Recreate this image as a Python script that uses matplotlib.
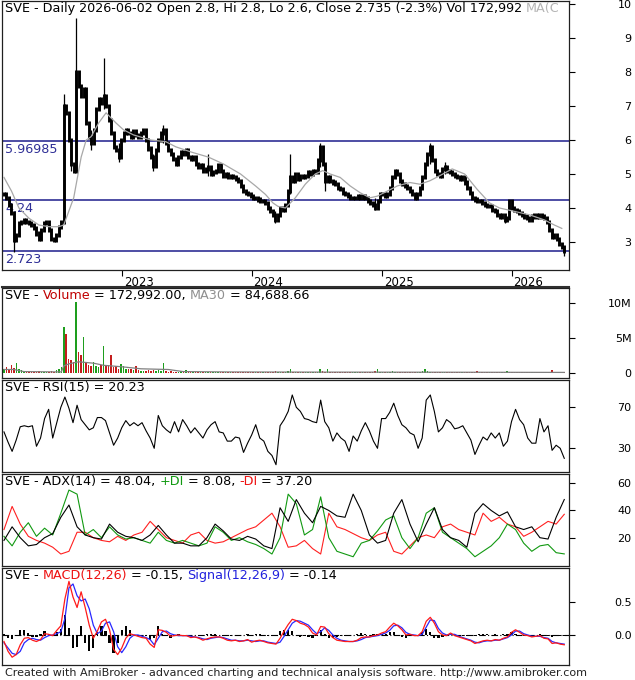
import matplotlib
matplotlib.use("Agg")
import matplotlib.pyplot as plt
import numpy as np
import pandas as pd
from matplotlib.lines import Line2D
from matplotlib.transforms import ScaledTranslation

# weekly bars, first week ending 2022-02-04
start = pd.Timestamp("2022-02-04")

close = [
    4.4, 4.3, 4.1, 3.85, 3.05, 3.2, 3.55, 3.6, 3.65, 3.6,
    3.55, 3.5, 3.4, 3.25, 3.1, 3.35, 3.55, 3.6, 3.35, 3.1,
    3.05, 3.2, 3.45, 3.6, 7.0, 6.8, 6.0, 5.3, 5.1, 8.0,
    7.6, 7.3, 7.5, 6.5, 6.1, 5.9, 6.3, 6.9, 7.2, 7.1,
    7.3, 7.0, 6.6, 6.2, 5.8, 5.7, 5.5, 6.0, 6.2, 6.3,
    6.2, 6.1, 6.25, 6.15, 6.1, 6.2, 6.3, 6.0, 5.75, 5.5,
    5.25, 5.7, 6.0, 6.2, 6.3, 5.9, 5.7, 5.6, 5.45, 5.3,
    5.5, 5.65, 5.6, 5.7, 5.5, 5.45, 5.5, 5.3, 5.2, 5.25,
    5.1, 5.15, 5.2, 5.0, 5.05, 5.1, 5.25, 5.1, 4.95, 5.0,
    4.9, 4.95, 4.9, 4.85, 4.8, 4.65, 4.5, 4.45, 4.4, 4.35,
    4.3, 4.3, 4.25, 4.2, 4.2, 4.15, 4.0, 3.9, 3.8, 3.65,
    3.8, 4.0, 3.95, 4.1, 4.5, 4.9, 4.8, 5.0, 4.85, 4.95,
    4.9, 4.95, 5.05, 5.0, 5.1, 5.05, 5.4, 5.8, 5.3, 4.8,
    4.9, 4.8, 4.75, 4.7, 4.6, 4.55, 4.45, 4.4, 4.35, 4.3,
    4.3, 4.3, 4.35, 4.3, 4.35, 4.3, 4.2, 4.15, 4.1, 4.0,
    4.2, 4.4, 4.4, 4.35, 4.4, 4.6, 4.9, 5.1, 5.0, 4.8,
    4.7, 4.65, 4.6, 4.5, 4.4, 4.3, 4.4, 4.6, 4.9, 5.3,
    5.6, 5.8, 5.4, 5.1, 5.0, 4.95, 5.15, 5.2, 5.1, 5.05,
    5.0, 4.95, 4.9, 4.85, 4.9, 4.75, 4.6, 4.45, 4.3, 4.25,
    4.2, 4.2, 4.15, 4.1, 4.05, 4.05, 3.95, 3.9, 3.8, 3.75,
    3.8, 3.65, 3.7, 4.2, 4.0, 3.95, 3.9, 3.85, 3.8, 3.75,
    3.7, 3.65, 3.75, 3.8, 3.75, 3.8, 3.75, 3.7, 3.6, 3.35,
    3.15, 3.2, 3.1, 2.95, 2.85, 2.735,
]

# weeks with long shadows: index, low, high
wick_week = [4, 24, 27, 29, 35, 40, 46, 60, 64, 82, 109, 115, 127, 129, 149, 171, 177, 201, 203, 225]
wick_lo = [2.72, 3.6, 5.1, 5.5, 5.7, 6.9, 5.35, 5.1, 5.9, 4.95, 3.55, 4.4, 5.2, 4.5, 3.95, 5.3, 5.0, 3.55, 3.8, 2.6]
wick_hi = [3.5, 7.35, 5.7, 9.6, 6.3, 8.4, 5.9, 5.6, 6.45, 5.6, 3.9, 5.6, 5.9, 5.1, 4.3, 5.9, 5.35, 3.8, 4.25, 2.85]

ma_week = [0, 3, 6, 10, 14, 18, 22, 24, 28, 31, 33, 35, 38, 41, 43, 45, 48, 52, 59, 65,
           69, 75, 82, 88, 95, 101, 105, 108, 110, 113, 117, 121, 125, 128, 131, 135, 139, 143, 147, 150,
           154, 158, 163, 167, 171, 175, 180, 185, 190, 195, 199, 205, 211, 217, 221, 224]
ma_price = [4.9, 4.5, 4.0, 3.7, 3.5, 3.45, 3.45, 3.5, 4.3, 5.5, 6.0, 6.1, 6.5, 6.8, 6.65, 6.5, 6.3, 6.15, 6.0, 5.95,
            5.8, 5.65, 5.5, 5.3, 5.0, 4.65, 4.4, 4.15, 4.05, 4.0, 4.3, 4.7, 5.0, 5.1, 5.0, 4.9, 4.65, 4.45, 4.3, 4.35,
            4.5, 4.65, 4.75, 4.7, 4.8, 4.95, 5.15, 5.0, 4.55, 4.15, 4.0, 3.9, 3.8, 3.65, 3.5, 3.4]

levels = [5.96985, 4.24, 2.723]
level_labels = ["5.96985", "4.24", "2.723"]

# volume, units of 100,000 shares
volume = [
    5, 8, 6, 12, 7, 14, 6, 4, 3, 2,
    2, 2, 2, 2, 3, 2, 2, 2, 2, 3,
    2, 4, 6, 8, 66, 56, 20, 18, 15, 101,
    30, 25, 52, 15, 12, 10, 15, 10, 8, 12,
    38, 10, 12, 26, 8, 10, 6, 13, 10, 6,
    5, 6, 4, 10, 4, 3, 3, 3, 4, 3,
    4, 3, 4, 3, 14, 3, 2, 3, 2, 2,
    2, 3, 2, 4, 2, 2, 1, 2, 1, 2,
    1, 2, 2, 1, 2, 1, 1, 2, 1, 1,
    2, 1, 1, 2, 1, 1, 2, 1, 1, 2,
    1, 1, 2, 1, 1, 2, 1, 2, 2, 3,
    2, 2, 1, 2, 3, 6, 2, 2, 1, 2,
    1, 1, 2, 1, 1, 2, 2, 6, 3, 2,
    5, 2, 1, 2, 1, 1, 2, 1, 1, 1,
    1, 2, 1, 1, 1, 2, 1, 1, 2, 3,
    5, 2, 2, 1, 1, 2, 3, 2, 1, 1,
    2, 1, 1, 1, 2, 1, 2, 2, 3, 5,
    3, 2, 2, 1, 1, 1, 2, 1, 1, 1,
    1, 1, 2, 1, 1, 1, 1, 2, 2, 1,
    3, 1, 1, 2, 1, 1, 1, 1, 2, 1,
    1, 1, 3, 2, 1, 1, 1, 1, 1, 1,
    1, 1, 1, 1, 1, 2, 1, 1, 2, 2,
    4, 2, 2, 1, 2, 1.7,
]
vol_ma_week = [0, 4, 8, 23, 24, 26, 30, 36, 40, 47, 55, 66, 72, 90, 120, 150, 180, 200, 225]
vol_ma = [5, 5, 2, 1.5, 10, 13, 16, 14, 11, 9, 6, 5, 2, 1.5, 1.3, 1.2, 1.1, 1.0, 0.85]

rsi = [
    46, 36, 27, 38, 51, 52, 51, 52, 32, 40,
    59, 68, 40, 55, 70, 80, 69, 55, 72, 58,
    53, 48, 50, 60, 60, 57, 45, 33, 40, 50,
    57, 52, 55, 52, 55, 47, 40, 30, 62, 52,
    48, 45, 56, 46, 58, 52, 45, 50, 45, 40,
    48, 53, 56, 46, 45, 37, 37, 41, 40, 26,
    35, 43, 53, 40, 37, 27, 23, 14, 52, 58,
    66, 82, 70, 66, 59, 58, 56, 55, 77, 56,
    50, 37, 45, 40, 37, 27, 42, 37, 47, 55,
    47, 37, 30, 59, 59, 65, 74, 62, 53, 50,
    45, 43, 30, 40, 77, 82, 66, 46, 50, 58,
    55, 49, 50, 52, 45, 38, 24, 33, 41, 38,
    45, 40, 45, 32, 37, 56, 68, 58, 53, 40,
    35, 35, 59, 46, 52, 28, 33, 30, 20.23,
]

adx = [
    18, 28, 20, 14, 15, 20, 23, 35, 44, 28,
    22, 20, 19, 30, 24, 21, 20, 18, 22, 29,
    22, 16, 16, 14, 14, 20, 30, 25, 19, 18,
    21, 19, 14, 12, 42, 32, 48, 38, 31, 43,
    40, 36, 35, 52, 40, 22, 16, 18, 38, 48,
    30, 17, 30, 42, 26, 20, 18, 13, 38, 45,
    40, 36, 39, 28, 26, 28, 20, 19, 35, 48.04,
]
plus_di = [
    21, 14, 24, 31, 21, 27, 22, 38, 55, 52,
    22, 26, 20, 28, 22, 19, 20, 18, 16, 24,
    18, 16, 18, 16, 14, 16, 28, 24, 18, 20,
    17, 15, 12, 8, 20, 52, 45, 22, 26, 50,
    20, 10, 8, 6, 16, 18, 25, 33, 36, 20,
    12, 20, 38, 42, 24, 20, 16, 12, 6, 10,
    14, 20, 30, 26, 16, 10, 14, 15, 9, 8.08,
]
minus_di = [
    26, 43, 30, 21, 18, 16, 13, 8, 10, 24,
    24, 20, 18, 17, 21, 18, 22, 24, 32, 26,
    20, 18, 16, 22, 24, 18, 16, 17, 20, 23,
    26, 28, 33, 38, 28, 13, 14, 18, 12, 8,
    38, 28, 26, 23, 20, 18, 22, 24, 10, 8,
    14, 20, 22, 20, 28, 30, 26, 24, 22, 38,
    32, 35, 30, 28, 21, 24, 28, 32, 30, 37.2,
]

macd = [
    -0.10, -0.25, -0.34, -0.30, -0.15, -0.05, -0.04, -0.08, -0.10, -0.07,
    0.02, 0.01, -0.01, 0.07, 0.14, 0.55, 0.82, 0.58, 0.42, 0.66,
    0.42, 0.15, -0.05, 0.06, 0.20, 0.24, 0.08, -0.22, -0.30, -0.20,
    -0.05, 0.02, 0.00, -0.02, -0.04, -0.05, -0.14, -0.19, 0.08, 0.07,
    0.04, -0.02, -0.01, 0.00, -0.01, -0.01, -0.04, -0.03, -0.05, -0.08,
    -0.06, -0.04, -0.03, -0.03, -0.05, -0.08, -0.09, -0.08, -0.10, -0.09,
    -0.07, -0.11, -0.09, -0.08, -0.10, -0.12, -0.13, -0.14, -0.05, 0.06,
    0.16, 0.24, 0.22, 0.18, 0.16, 0.12, 0.03, 0.00, 0.13, 0.12,
    0.02, -0.04, -0.08, -0.09, -0.10, -0.10, -0.10, -0.08, -0.04, -0.03,
    -0.03, -0.01, 0.00, 0.03, 0.05, 0.12, 0.18, 0.14, 0.08, 0.00,
    0.01, -0.01, -0.01, 0.05, 0.21, 0.27, 0.18, 0.05, 0.00, -0.01,
    0.03, -0.01, -0.03, -0.05, -0.07, -0.09, -0.13, -0.11, -0.09, -0.08,
    -0.09, -0.07, -0.08, -0.05, -0.03, 0.04, 0.08, 0.04, 0.00, -0.01,
    -0.03, -0.02, -0.01, -0.05, -0.06, -0.13, -0.12, -0.14, -0.15,
]
signal = [
    -0.12, -0.20, -0.28, -0.30, -0.25, -0.12, -0.07, -0.05, -0.07, -0.08,
    -0.04, -0.01, 0.00, 0.02, 0.05, 0.25, 0.72, 0.78, 0.60, 0.52,
    0.55, 0.40, 0.15, 0.02, 0.06, 0.18, 0.20, 0.05, -0.18, -0.27,
    -0.18, -0.05, 0.00, 0.00, -0.02, -0.04, -0.07, -0.15, -0.05, 0.05,
    0.06, 0.02, 0.00, -0.01, -0.01, -0.01, -0.02, -0.03, -0.04, -0.06,
    -0.07, -0.05, -0.04, -0.03, -0.04, -0.06, -0.08, -0.08, -0.09, -0.09,
    -0.08, -0.09, -0.10, -0.09, -0.09, -0.11, -0.12, -0.13, -0.11, -0.02,
    0.08, 0.18, 0.22, 0.21, 0.18, 0.15, 0.08, 0.02, 0.05, 0.11,
    0.07, 0.00, -0.05, -0.08, -0.09, -0.10, -0.10, -0.09, -0.07, -0.04,
    -0.03, -0.02, -0.01, 0.01, 0.03, 0.07, 0.14, 0.15, 0.11, 0.04,
    0.01, 0.00, -0.01, 0.01, 0.12, 0.23, 0.22, 0.10, 0.03, 0.00,
    0.01, 0.01, -0.02, -0.04, -0.06, -0.08, -0.11, -0.12, -0.10, -0.09,
    -0.09, -0.08, -0.08, -0.06, -0.04, 0.00, 0.06, 0.06, 0.02, 0.00,
    -0.02, -0.02, -0.02, -0.04, -0.05, -0.10, -0.12, -0.13, -0.14,
]
hist = [
    0.02, -0.05, -0.06, 0.00, 0.08, 0.07, 0.03, -0.03, -0.03, 0.01,
    0.06, 0.02, -0.01, 0.05, 0.09, 0.30, 0.10, -0.20, -0.18, 0.14,
    -0.13, -0.25, -0.20, 0.04, 0.14, 0.06, -0.12, -0.27, -0.12, 0.07,
    0.13, 0.07, 0.00, -0.02, -0.02, -0.01, -0.07, -0.04, 0.13, 0.02,
    -0.02, -0.04, -0.01, 0.01, 0.00, 0.00, -0.02, 0.00, -0.01, -0.02,
    0.01, 0.01, 0.01, 0.00, -0.01, -0.02, -0.01, 0.00, -0.01, 0.00,
    0.01, -0.02, 0.01, 0.01, -0.01, -0.01, -0.01, -0.01, 0.06, 0.08,
    0.08, 0.06, 0.00, -0.03, -0.02, -0.03, -0.05, -0.02, 0.08, 0.01,
    -0.05, -0.04, -0.03, -0.01, -0.01, 0.00, 0.00, 0.01, 0.03, 0.01,
    0.00, 0.01, 0.01, 0.02, 0.02, 0.05, 0.04, -0.01, -0.03, -0.04,
    0.00, -0.01, 0.00, 0.04, 0.09, 0.04, -0.04, -0.05, -0.03, -0.01,
    0.02, -0.02, -0.01, -0.01, -0.01, -0.01, -0.02, 0.01, 0.01, 0.01,
    0.00, 0.01, 0.00, 0.01, 0.01, 0.04, 0.02, -0.02, -0.02, -0.01,
    -0.01, 0.00, 0.01, -0.01, -0.01, -0.03, 0.00, -0.01, -0.01,
]

year_labels = ["2023", "2024", "2025", "2026"]

W, H = 635, 680
plt.rcParams["font.family"] = ["DejaVu Sans"]
fig = plt.figure(figsize=(W / 100, H / 100), dpi=100)
renderer = fig.canvas.get_renderer()

FS = 8      # axis labels
HFS = 9.2   # pane headers


def panel(top, bottom):
    ax = fig.add_axes([2 / W, 1 - bottom / H, 567 / W, (bottom - top) / H])
    ax.set_xlim(-0.8, 226.9)
    ax.yaxis.tick_right()
    ax.tick_params(axis="y", direction="out", length=4, width=0.8, labelsize=FS, pad=41)
    ax.tick_params(axis="x", bottom=False, labelbottom=False)
    for sp in ax.spines.values():
        sp.set_linewidth(0.9)
        sp.set_color("#202020")
    return ax


def right_labels(ax, ticks, labels):
    ax.set_yticks(ticks, labels)
    for t in ax.get_yticklabels():
        t.set_horizontalalignment("right")


def text_width(s):
    t = fig.text(0, 0, s, fontsize=HFS)
    w = t.get_window_extent(renderer).width
    t.remove()
    return w


def header(parts, y_top, clip_ax=None):
    # parts: list of (text, colour); place each piece where it falls in the full line
    full = ""
    x0 = 5
    for s, c in parts:
        seg = s.strip()
        lead = s[: len(s) - len(s.lstrip())]
        prefix = full + lead
        if prefix:
            off = text_width(prefix + seg) - text_width(seg)
        else:
            off = 0
        t = fig.text((x0 + off) / W, 1 - y_top / H, seg, color=c, fontsize=HFS, va="top", ha="left")
        if clip_ax is not None:
            t.set_clip_box(clip_ax.bbox)
            t.set_clip_on(True)
        full += s


weeks = np.arange(len(close))
close_a = np.array(close)
prev = np.concatenate([[close_a[0]], close_a[:-1]])

# ---------------- price pane
ax = panel(1, 270)
ax.set_ylim(2.176, 10.09)
for v, lab in zip(levels, level_labels):
    ax.axhline(v, color="#1c1c8c", lw=1.1, zorder=1)
    ax.annotate(lab, (0, v), xycoords=("axes fraction", "data"), xytext=(3, -2),
                textcoords="offset pixels", va="top", ha="left", fontsize=HFS, color="#2e2e96", zorder=1)
ax.vlines(wick_week, wick_lo, wick_hi, color="black", lw=0.9, zorder=3)
ax.vlines(weeks, np.minimum(prev, close_a) - 0.06, np.maximum(prev, close_a) + 0.06,
          color="black", lw=2.1, zorder=3)
ax.plot(ma_week, ma_price, color="#a8a8a8", lw=0.9, zorder=4)
right_labels(ax, [3, 4, 5, 6, 7, 8, 9, 10], ["3", "4", "5", "6", "7", "8", "9", "10"])
year_pos = [(pd.Timestamp(y + "-01-01") - start).days / 7 for y in year_labels]
ax.set_xticks(year_pos, year_labels)
ax.tick_params(axis="x", bottom=True, labelbottom=True, direction="out", length=4, width=0.8,
               labelsize=FS + 0.5, pad=0)
for t in ax.get_xticklabels():
    t.set_horizontalalignment("left")
    t.set_transform(t.get_transform() + ScaledTranslation(2 / 100, 0, fig.dpi_scale_trans))
fig.add_artist(Line2D([2 / W, 569 / W], [1 - 286.5 / H] * 2, color="#303030", lw=1.5))

# the moving-average caption runs off the pane edge, only its start shows
header([("SVE - Daily 2026-06-02 Open 2.8, Hi 2.8, Lo 2.6, Close 2.735 (-2.3%) Vol 172,992", "black"),
        (" MA(C", "#b4b4b4")], 2, clip_ax=ax)

# ---------------- volume pane
axv = panel(288, 378)
axv.set_ylim(-0.714e6, 12.14e6)
vol_col = ["#1e9e1e" if c >= p else "#c41e1e" for c, p in zip(close_a, prev)]
axv.bar(weeks, np.array(volume) * 1e5, width=0.6, color=vol_col, linewidth=0)
axv.plot(vol_ma_week, np.array(vol_ma) * 1e5, color="#808080", lw=0.9)
right_labels(axv, [0, 5e6, 10e6], ["0", "5M", "10M"])
header([("SVE - ", "black"), ("Volume", "#c00000"), (" = 172,992.00, ", "black"),
        ("MA30", "#909090"), (" = 84,688.66", "black")], 289)

# ---------------- RSI pane
axr = panel(380, 472)
axr.set_ylim(6.9, 96.6)
axr.plot(np.linspace(0, 225, len(rsi)), rsi, color="black", lw=0.8)
right_labels(axr, [30, 70], ["30", "70"])
header([("SVE - RSI(15) = 20.23", "black")], 381)

# ---------------- ADX pane
axa = panel(474, 566)
axa.set_ylim(-0.8, 66.8)
xa = np.linspace(0, 225, len(adx))
axa.plot(xa, minus_di, color="#ff2020", lw=0.8)
axa.plot(xa, plus_di, color="#119911", lw=0.8)
axa.plot(xa, adx, color="black", lw=0.8)
right_labels(axa, [20, 40, 60], ["20", "40", "60"])
header([("SVE - ADX(14) = 48.04, ", "black"), ("+DI", "#119911"), (" = 8.08, ", "black"),
        ("-DI", "#ee1111"), (" = 37.20", "black")], 475)

# ---------------- MACD pane
axm = panel(568, 665)
axm.set_ylim(-0.459, 1.024)
xm = np.linspace(0, 225, len(macd))
axm.bar(xm, hist, width=0.9, color="black", linewidth=0)
axm.axhline(0, color="black", lw=0.8, linestyle=(0, (6, 2, 1, 2)))
axm.plot(xm, signal, color="#2828ff", lw=0.9)
axm.plot(xm, macd, color="#ff1a1a", lw=0.9)
right_labels(axm, [0, 0.5], ["0.0", "0.5"])
header([("SVE - ", "black"), ("MACD(12,26)", "#ee1111"), (" = -0.15, ", "black"),
        ("Signal(12,26,9)", "#2222dd"), (" = -0.14", "black")], 569)

fig.text(5 / W, 1 - 673 / H,
         "Created with AmiBroker - advanced charting and technical analysis software. http://www.amibroker.com",
         fontsize=8, va="center", ha="left", color="#222222")

fig.savefig("out.png", dpi=100)
